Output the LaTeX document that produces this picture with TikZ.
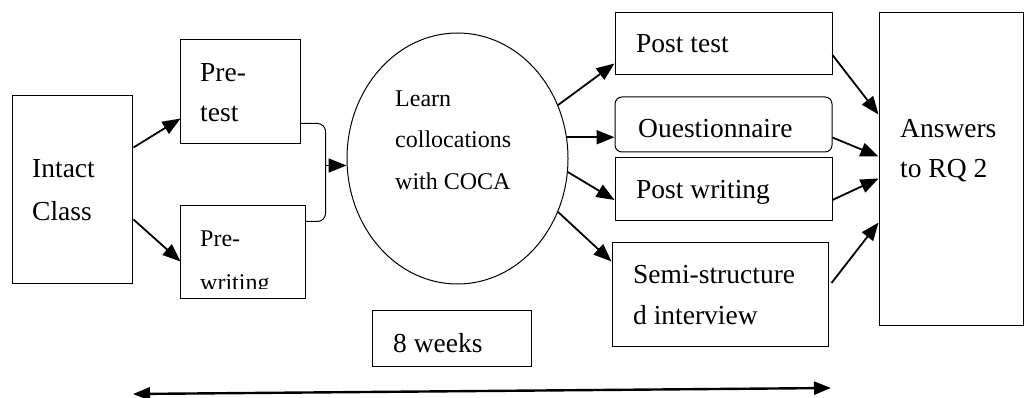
\documentclass[tikz,border=0pt]{standalone}
\usepackage{fontspec}
\setmainfont{Liberation Serif}
\usetikzlibrary{shapes.geometric,arrows.meta,calc}
\tikzset{
  box/.style={draw, line width=1pt, inner sep=0pt},
  big/.style={anchor=base west, inner sep=0pt, font=\fontsize{27.5}{33}\selectfont},
  small/.style={anchor=base west, inner sep=0pt, font=\fontsize{24}{29}\selectfont},
  arr/.style={line width=1.8pt, -{Triangle[length=18pt,width=14pt]}},
  thin/.style={line width=1pt}
}
\begin{document}
\begin{tikzpicture}[x=1pt,y=-1pt]
\useasboundingbox (0,0) rectangle (1025,398);
% boxes
\node[box, minimum width=120pt, minimum height=187pt] (intact) at (72,189.5) {};
\node[box, minimum width=120pt, minimum height=104pt] (pretest) at (240,92) {};
\node[box, minimum width=125pt, minimum height=92pt] (prewriting) at (242.5,252) {};
\node[box, shape=ellipse, minimum width=221pt, minimum height=251pt] (learn) at (457.5,158.5) {};
\node[box, minimum width=217pt, minimum height=62pt] (posttest) at (723.5,44) {};
\node[box, rounded corners=7pt, minimum width=217pt, minimum height=55pt] (quest) at (723.5,124.5) {};
\node[box, minimum width=217pt, minimum height=63pt] (postwriting) at (723.5,189.5) {};
\node[box, minimum width=216pt, minimum height=104pt] (semi) at (720,294) {};
\node[box, minimum width=144pt, minimum height=312pt] (answers) at (951,169) {};
\node[box, minimum width=159pt, minimum height=56pt] (weeks) at (451.5,338) {};
% texts
\node[big] (t1a) at (32,178) {Intact};
\node[big] (t1b) at (32,220) {Class};
\node[big] (t2a) at (200,82) {Pre-};
\node[big] (t2b) at (200,122) {test};
\node[small] (t3a) at (200,247) {Pre-};
\begin{scope}
  \clip (181,200) rectangle (304,288.5);
  \node[small] (t3b) at (200,290) {writing};
\end{scope}
\node[small] (t4a) at (395,107) {Learn};
\node[small] (t4b) at (395,148) {collocations};
\node[small] (t4c) at (395,190) {with COCA};
\node[big] (t5) at (636,53) {Post test};
\node[big] (t6) at (638,138) {Ouestionnaire};
\node[big] (t7) at (636,199) {Post writing};
\node[big] (t8a) at (633,283) {Semi-structure};
\node[big] (t8b) at (633,324) {d interview};
\node[big] (t9a) at (900,138) {Answers};
\node[big] (t9b) at (900,178) {to RQ 2};
\node[big] (t10) at (393,352) {8 weeks};
% connectors
\draw[arr] ($(intact.north east)+(1,52)$) -- ($(pretest.south west)+(1,-26)$);
\draw[arr] ($(intact.north east)+(1,124)$) -- ($(prewriting.north west)+(1,56)$);
\coordinate (bA) at ($(pretest.south east)+(0,-21)$);
\coordinate (bB) at ($(prewriting.north east)+(0,16)$);
\draw[thin, rounded corners=8pt] (bA) -- ++(25,0) |- (bB);
\coordinate (bm) at ($(bA)+(25,42)$);
\draw[arr] (bm) -- (learn.west |- bm);
\draw[arr] (learn.28) -- ($(posttest.south west)+(0,-12)$);
\draw[arr] (learn.11) -- (learn.11 -| quest.west);
\draw[arr] (learn.-7.5) -- ($(postwriting.west)+(0,10.5)$);
\draw[arr] (learn.-28.5) -- ($(semi.north west)+(0,20)$);
\draw[arr] ($(posttest.east)+(0,11)$) -- ($(answers.north west)+(0,102)$);
\draw[arr] ($(quest.east)+(0,13)$) -- ($(answers.north west)+(0,144)$);
\draw[arr] ($(postwriting.east)+(0,10.5)$) -- ($(answers.north west)+(0,166)$);
\draw[arr] ($(semi.east)+(3,-11)$) -- ($(answers.north west)+(0,210)$);
\coordinate (dl) at (133,394);
\coordinate (dr) at (831,388);
\draw[line width=2.4pt, {Triangle[length=17pt,width=13pt]}-{Triangle[length=17pt,width=13pt]}] (dl) -- (dr);
\end{tikzpicture}
\end{document}
